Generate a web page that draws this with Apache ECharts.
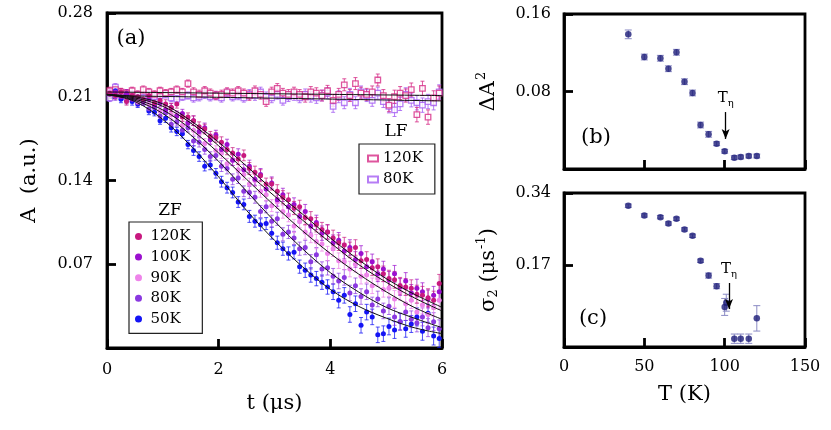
<!DOCTYPE html>
<html>
<head>
<meta charset="utf-8">
<script src="https://cdn.jsdelivr.net/npm/echarts@6/dist/echarts.min.js"></script>
<style>
  html, body { margin: 0; padding: 0; background: #fff; }
  #chart { width: 831px; height: 430px; }
</style>
</head>
<body>
<div id="chart"></div>
<script>
// ---- panel (a): asymmetry vs time ----
const tZF = [
  0.05,0.15,0.25,0.35,0.45,0.55,0.65,0.75,0.85,0.95,
  1.05,1.15,1.25,1.35,1.45,1.55,1.65,1.75,1.85,1.95,
  2.05,2.15,2.25,2.35,2.45,2.55,2.65,2.75,2.85,2.95,
  3.05,3.15,3.25,3.35,3.45,3.55,3.65,3.75,3.85,3.95,
  4.05,4.15,4.25,4.35,4.45,4.55,4.65,4.75,4.85,4.95,
  5.05,5.15,5.25,5.35,5.45,5.55,5.65,5.75,5.85,5.95
];
const zf50 = [
  .213,.215,.208,.211,.206,.204,.206,.198,.197,.190,
  .192,.184,.181,.179,.170,.165,.160,.152,.153,.146,
  .139,.134,.130,.122,.120,.110,.106,.103,.104,.096,
  .088,.083,.079,.080,.068,.065,.061,.058,.055,.051,
  .047,.040,.044,.028,.037,.019,.030,.026,.011,.012,
  .018,.015,.022,.016,.020,.026,.014,.029,.010,.008
];
const zf80 = [
  .213,.210,.212,.207,.209,.205,.207,.200,.201,.194,
  .197,.187,.189,.182,.184,.173,.172,.166,.160,.161,
  .152,.150,.141,.142,.131,.130,.126,.114,.118,.106,
  .108,.095,.097,.092,.083,.084,.072,.078,.066,.067,
  .060,.056,.059,.046,.052,.043,.047,.036,.041,.031,
  .035,.026,.022,.030,.024,.021,.026,.017,.022,.016
];
const zf90 = [
  .214,.211,.213,.209,.210,.206,.207,.204,.205,.198,
  .199,.195,.195,.186,.189,.182,.179,.171,.175,.165,
  .163,.154,.157,.149,.145,.137,.140,.131,.128,.119,
  .122,.114,.111,.102,.106,.097,.094,.089,.087,.079,
  .083,.073,.072,.066,.070,.060,.061,.052,.058,.049,
  .050,.041,.047,.037,.040,.030,.036,.028,.034,.040
];
const zf100 = [
  .212,.214,.210,.213,.208,.210,.206,.208,.203,.205,
  .199,.201,.194,.196,.188,.190,.181,.184,.174,.178,
  .166,.170,.157,.162,.149,.152,.141,.145,.133,.138,
  .124,.128,.118,.120,.110,.114,.102,.105,.096,.097,
  .088,.090,.081,.084,.074,.079,.068,.072,.062,.066,
  .057,.062,.051,.056,.046,.050,.047,.041,.044,.047
];
const zf120 = [
  .213,.211,.214,.206,.211,.210,.208,.211,.205,.207,
  .204,.201,.204,.193,.193,.190,.185,.183,.177,.176,
  .172,.166,.163,.158,.161,.150,.147,.144,.137,.137,
  .131,.126,.124,.117,.118,.109,.108,.103,.099,.097,
  .092,.088,.086,.082,.084,.073,.074,.067,.068,.062,
  .058,.057,.052,.051,.050,.045,.044,.042,.040,.054
];
const lf120 = [
  .215,.216,.214,.213,.215,.212,.216,.214,.212,.215,
  .213,.214,.216,.214,.221,.214,.212,.215,.213,.211,
  .212,.214,.213,.215,.213,.211,.215,.212,.206,.214,
  .217,.213,.212,.214,.212,.210,.214,.213,.211,.215,
  .207,.212,.220,.211,.221,.213,.212,.214,.224,.211,
  .203,.210,.213,.211,.216,.195,.217,.193,.209,.213
];
const lf80 = [
  .209,.218,.212,.210,.212,.211,.209,.212,.210,.211,
  .212,.209,.208,.210,.211,.209,.210,.212,.210,.211,
  .209,.213,.210,.211,.209,.212,.211,.214,.210,.209,
  .212,.207,.210,.211,.209,.212,.210,.209,.211,.213,
  .202,.210,.205,.212,.205,.214,.211,.207,.213,.206,
  .202,.199,.204,.212,.207,.205,.203,.206,.205,.214
];
// error half-widths per 0.5 us bin
const errZF = [0.003,0.003,0.0035,0.004,0.0045,0.005,0.0055,0.006,0.0065,0.0065,0.007,0.0075];
const errLF = [0.003,0.003,0.003,0.0035,0.0035,0.004,0.004,0.0045,0.005,0.005,0.0055,0.006];

// fit curves
const tFit = [0,0.5,1,1.5,2,2.5,3,3.5,4,4.5,5,5.5,6];
const fit50  = [.212,.206,.191,.169,.143,.115,.090,.068,.049,.035,.025,.017,.012];
const fit80  = [.212,.207,.196,.178,.156,.131,.106,.083,.063,.047,.034,.025,.017];
const fit90  = [.212,.208,.199,.183,.163,.141,.119,.098,.079,.062,.047,.034,.024];
const fit100 = [.212,.209,.202,.188,.169,.147,.127,.107,.088,.070,.055,.042,.031];
const fit120 = [.212,.210,.204,.190,.172,.152,.131,.112,.092,.074,.058,.045,.034];
const tFitLF = [0,3,6];
const fitLF120 = [0.214,0.2125,0.211];
const fitLF80  = [0.211,0.2088,0.2065];

// ---- panels (b) and (c) ----
const tB = [40,50,60,65,70,75,80,85,90,95,100,106,110,115,120];
const dA2 = [0.139,0.1156,0.1143,0.1035,0.1205,0.0901,0.0785,0.0454,0.0358,0.0261,0.0183,0.0117,0.0124,0.0134,0.0134];
const dA2err = [0.0045,0.003,0.003,0.003,0.003,0.003,0.003,0.003,0.003,0.002,0.002,0.002,0.002,0.002,0.002];
const tC = [40,50,60,65,70,75,80,85,90,95,100,101,106,110,115,120];
const sig2 = [0.310,0.287,0.283,0.268,0.279,0.254,0.239,0.180,0.145,0.120,0.071,0.081,-0.004,-0.004,-0.004,0.044];
const sig2err = [0.004,0.004,0.004,0.004,0.004,0.004,0.004,0.004,0.006,0.006,0.02,0.02,0.011,0.011,0.011,0.03];

const FONT = 'DejaVu Serif';
const chart = echarts.init(document.getElementById('chart'));

function binErr(arr, t) { return arr[Math.min(arr.length - 1, Math.floor(t / 0.5))]; }

function errRender(capW, color, lw) {
  return function (params, api) {
    const x = api.value(0);
    const p1 = api.coord([x, api.value(1)]);
    const p2 = api.coord([x, api.value(2)]);
    const st = { stroke: color, lineWidth: lw };
    return {
      type: 'group',
      children: [
        { type: 'line', shape: { x1: p1[0], y1: p1[1], x2: p2[0], y2: p2[1] }, style: st },
        { type: 'line', shape: { x1: p1[0] - capW, y1: p1[1], x2: p1[0] + capW, y2: p1[1] }, style: st },
        { type: 'line', shape: { x1: p2[0] - capW, y1: p2[1], x2: p2[0] + capW, y2: p2[1] }, style: st }
      ]
    };
  };
}

function zfSeries(name, vals, color, errColor, errTab) {
  return [
    {
      type: 'custom', xAxisIndex: 0, yAxisIndex: 0, z: 2,
      renderItem: errRender(2, errColor, 1),
      data: tZF.map((t, i) => [t, vals[i] - binErr(errTab, t), vals[i] + binErr(errTab, t)])
    },
    {
      name: name, type: 'scatter', xAxisIndex: 0, yAxisIndex: 0, z: 3,
      symbol: 'circle', symbolSize: 5,
      itemStyle: { color: color, opacity: 1 },
      data: tZF.map((t, i) => [t, vals[i]])
    }
  ];
}

function lfSeries(name, vals, color, errColor) {
  return [
    {
      type: 'custom', xAxisIndex: 0, yAxisIndex: 0, z: 2,
      renderItem: errRender(2, errColor, 1),
      data: tZF.map((t, i) => [t, vals[i] - binErr(errLF, t), vals[i] + binErr(errLF, t)])
    },
    {
      name: name, type: 'scatter', xAxisIndex: 0, yAxisIndex: 0, z: 3,
      symbol: 'rect', symbolSize: 5.5,
      itemStyle: { color: '#fff', borderColor: color, borderWidth: 1.3 },
      data: tZF.map((t, i) => [t, vals[i]])
    }
  ];
}

function fitLine(xs, ys) {
  return {
    type: 'line', xAxisIndex: 0, yAxisIndex: 0, z: 4,
    smooth: 0.35, showSymbol: false, silent: true,
    lineStyle: { color: '#111', width: 1 },
    data: xs.map((t, i) => [t, ys[i]])
  };
}

const axisLn = { show: true, onZero: false, lineStyle: { color: '#000', width: 2.8 } };
const tickStyle = { show: true, inside: true, length: 9, lineStyle: { color: '#000', width: 2.8 } };
const labelStyle = { color: '#000', fontFamily: FONT, fontSize: 16 };
const nameStyle = { color: '#000', fontFamily: FONT, fontSize: 21 };

const arrowLabel = {
  show: true, position: 'start', distance: 4,
  formatter: '{t|T}{e|η}',
  rich: {
    t: { fontFamily: FONT, fontSize: 15, color: '#000' },
    e: { fontFamily: FONT, fontSize: 10, color: '#000', padding: [9, 0, 0, 0] }
  }
};

const option = {
  animation: false,
  backgroundColor: '#fff',
  grid: [
    { left: 107, top: 13, width: 335, height: 335, show: true, borderColor: '#000', borderWidth: 2.8, backgroundColor: 'transparent' },
    { left: 564, top: 14, width: 241, height: 155, show: true, borderColor: '#000', borderWidth: 2.8, backgroundColor: 'transparent' },
    { left: 564, top: 193, width: 241, height: 154, show: true, borderColor: '#000', borderWidth: 2.8, backgroundColor: 'transparent' }
  ],
  xAxis: [
    {
      gridIndex: 0, type: 'value', min: 0, max: 6, interval: 2,
      axisLine: axisLn, splitLine: { show: false },
      axisTick: tickStyle, axisLabel: Object.assign({ margin: 14 }, labelStyle),
      name: 't (μs)', nameLocation: 'middle', nameGap: 45, nameTextStyle: nameStyle
    },
    {
      gridIndex: 1, type: 'value', min: 0, max: 150, interval: 50,
      axisLine: axisLn, splitLine: { show: false },
      axisTick: tickStyle, axisLabel: { show: false }
    },
    {
      gridIndex: 2, type: 'value', min: 0, max: 150, interval: 50,
      axisLine: axisLn, splitLine: { show: false },
      axisTick: tickStyle, axisLabel: Object.assign({ margin: 12 }, labelStyle),
      name: 'T (K)', nameLocation: 'middle', nameGap: 37, nameTextStyle: nameStyle
    }
  ],
  yAxis: [
    {
      gridIndex: 0, type: 'value', min: 0, max: 0.28, interval: 0.07,
      axisLine: axisLn, splitLine: { show: false },
      axisTick: tickStyle,
      axisLabel: Object.assign({ margin: 14, formatter: v => (v === 0 ? '' : v.toFixed(2)) }, labelStyle),
      name: 'A  (a.u.)', nameLocation: 'middle', nameGap: 67, nameTextStyle: nameStyle
    },
    {
      gridIndex: 1, type: 'value', min: 0, max: 0.16, interval: 0.08,
      axisLine: axisLn, splitLine: { show: false },
      axisTick: tickStyle,
      axisLabel: Object.assign({ margin: 13, formatter: v => (v === 0 ? '' : v.toFixed(2)) }, labelStyle),
      name: '{a|ΔA}{s|2}', nameLocation: 'middle', nameGap: 62,
      nameTextStyle: {
        rich: {
          a: { fontFamily: FONT, fontSize: 21, color: '#000' },
          s: { fontFamily: FONT, fontSize: 13, color: '#000', padding: [0, 0, 14, 1] }
        }
      }
    },
    {
      gridIndex: 2, type: 'value', min: -0.0236, max: 0.34,
      axisLine: axisLn, splitLine: { show: false },
      axisTick: Object.assign({ customValues: [0.17, 0.34] }, tickStyle),
      axisLabel: Object.assign({ margin: 13, customValues: [0.17, 0.34], formatter: v => v.toFixed(2) }, labelStyle),
      name: '{a|σ}{b|2}{a| (μs}{s|-1}{a|)}', nameLocation: 'middle', nameGap: 62,
      nameTextStyle: {
        rich: {
          a: { fontFamily: FONT, fontSize: 21, color: '#000' },
          b: { fontFamily: FONT, fontSize: 13, color: '#000', padding: [10, 0, 0, 0] },
          s: { fontFamily: FONT, fontSize: 13, color: '#000', padding: [0, 0, 14, 1] }
        }
      }
    }
  ],
  legend: [
    {
      data: ['ZF 120K', 'ZF 100K', 'ZF 90K', 'ZF 80K', 'ZF 50K'],
      formatter: n => n.split(' ')[1],
      orient: 'vertical', left: 129, top: 222,
      icon: 'circle', itemWidth: 14, itemHeight: 7, itemGap: 5.6,
      padding: [7, 12, 7, 6],
      borderColor: '#222', borderWidth: 1.2, borderRadius: 0, backgroundColor: '#fff',
      textStyle: { fontFamily: FONT, fontSize: 15, lineHeight: 15, color: '#000' },
      selectedMode: false
    },
    {
      data: ['LF 120K', 'LF 80K'],
      formatter: n => n.split(' ')[1],
      orient: 'vertical', left: 359, top: 144,
      icon: 'rect', itemWidth: 10, itemHeight: 6, itemGap: 6,
      padding: [7, 12, 7, 8],
      borderColor: '#222', borderWidth: 1.2, borderRadius: 0, backgroundColor: '#fff',
      textStyle: { fontFamily: FONT, fontSize: 15, lineHeight: 15, color: '#000' },
      selectedMode: false
    }
  ],
  graphic: [
    { type: 'text', x: 131, y: 39, style: { text: '(a)', font: '21px "DejaVu Serif"', fill: '#000', align: 'center', verticalAlign: 'middle' } },
    { type: 'text', x: 596, y: 138, style: { text: '(b)', font: '21px "DejaVu Serif"', fill: '#000', align: 'center', verticalAlign: 'middle' } },
    { type: 'text', x: 593, y: 319, style: { text: '(c)', font: '21px "DejaVu Serif"', fill: '#000', align: 'center', verticalAlign: 'middle' } },
    { type: 'text', x: 170, y: 211, style: { text: 'ZF', font: '17px "DejaVu Serif"', fill: '#000', align: 'center', verticalAlign: 'middle' } },
    { type: 'text', x: 396, y: 132, style: { text: 'LF', font: '17px "DejaVu Serif"', fill: '#000', align: 'center', verticalAlign: 'middle' } }
  ],
  series: [].concat(
    lfSeries('LF 80K', lf80, '#a45cf2', 'rgba(164,92,242,0.8)'),
    lfSeries('LF 120K', lf120, '#d62a86', 'rgba(214,42,134,0.8)'),
    zfSeries('ZF 50K', zf50, '#1414f5', 'rgba(20,20,245,0.75)', errZF),
    zfSeries('ZF 80K', zf80, '#8a38e0', 'rgba(138,56,224,0.7)', errZF),
    zfSeries('ZF 90K', zf90, '#ee84ea', 'rgba(238,132,234,0.75)', errZF),
    zfSeries('ZF 100K', zf100, '#9b10cf', 'rgba(155,16,207,0.7)', errZF),
    zfSeries('ZF 120K', zf120, '#c8197f', 'rgba(200,25,127,0.7)', errZF),
    [
      fitLine(tFitLF, fitLF120), fitLine(tFitLF, fitLF80),
      fitLine(tFit, fit50), fitLine(tFit, fit80), fitLine(tFit, fit90),
      fitLine(tFit, fit100), fitLine(tFit, fit120),
      {
        type: 'custom', xAxisIndex: 1, yAxisIndex: 1, z: 2,
        renderItem: errRender(3.5, '#8a8ac4', 1),
        data: tB.map((t, i) => [t, dA2[i] - dA2err[i], dA2[i] + dA2err[i]])
      },
      {
        type: 'scatter', xAxisIndex: 1, yAxisIndex: 1, z: 3,
        symbolSize: 6.5, itemStyle: { color: '#1c1c78' },
        data: tB.map((t, i) => [t, dA2[i]]),
        markLine: {
          silent: true, symbol: ['none', 'arrow'], symbolSize: [6, 10],
          lineStyle: { color: '#000', width: 1.3, type: 'solid' },
          label: arrowLabel,
          data: [[{ coord: [100.6, 0.0588] }, { coord: [100.6, 0.031] }]]
        }
      },
      {
        type: 'custom', xAxisIndex: 2, yAxisIndex: 2, z: 2,
        renderItem: errRender(3.5, '#8a8ac4', 1),
        data: tC.map((t, i) => [t, sig2[i] - sig2err[i], sig2[i] + sig2err[i]])
      },
      {
        type: 'scatter', xAxisIndex: 2, yAxisIndex: 2, z: 3,
        symbolSize: 6.5, itemStyle: { color: '#1c1c78' },
        data: tC.map((t, i) => [t, sig2[i]]),
        markLine: {
          silent: true, symbol: ['none', 'arrow'], symbolSize: [6, 10],
          lineStyle: { color: '#000', width: 1.3, type: 'solid' },
          label: arrowLabel,
          data: [[{ coord: [102.7, 0.1275] }, { coord: [102.7, 0.066] }]]
        }
      }
    ]
  )
};

chart.setOption(option);
</script>
</body>
</html>
